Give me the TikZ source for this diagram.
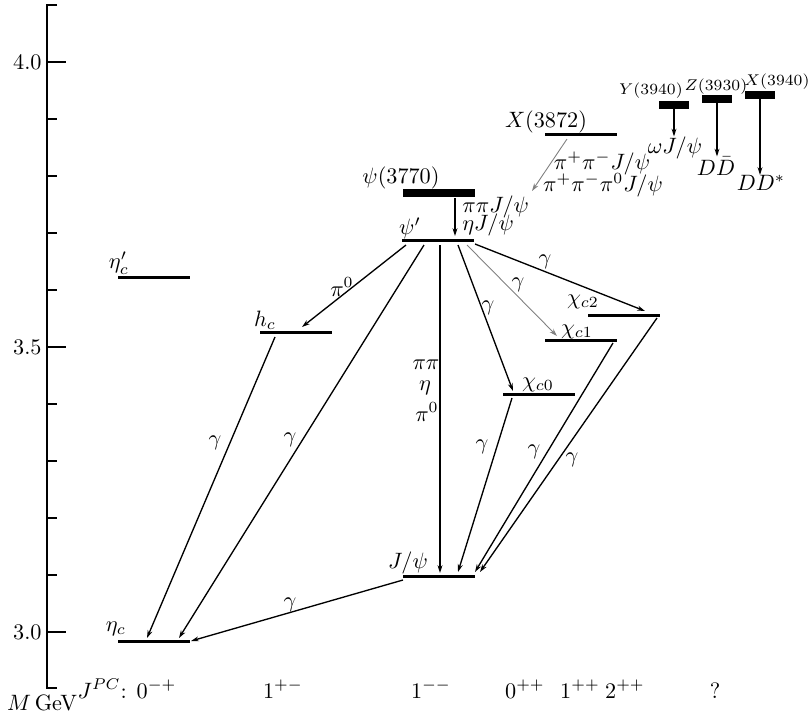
\documentclass[tikz,border=0pt]{standalone}
\usepackage{amsmath,amssymb}
\usetikzlibrary{positioning,arrows.meta,calc}

\begin{document}
\begin{tikzpicture}[
  x=0.45pt, y=-0.45pt,
  lvl/.style={rectangle, fill=black, inner sep=0pt, minimum width=32.4pt, minimum height=1.35pt},
  broad/.style={lvl, minimum height=3.6pt},
  stub/.style={lvl, minimum width=13.5pt, minimum height=3.2pt},
  lab/.style={inner sep=0pt},
  smalllab/.style={lab, font=\scriptsize},
  decay/.style={-{Stealth[length=3.5pt,width=2.2pt]}, line width=0.6pt},
  faint/.style={decay, line width=0.4pt, draw=gray},
  axisline/.style={line width=0.6pt}
]
\useasboundingbox (0,0) rectangle (810,715);

% Mass axis
\draw[axisline] (57,5) -- (47,5) -- (47,688) -- (57,688);
\foreach \k in {1,2,3,4,6,7,8,9}
  \draw[axisline] (47,{632-57*\k}) -- (57,{632-57*\k});
\foreach \k/\m in {0/3.0,5/3.5,10/4.0} {
  \draw[axisline] (47,{632-57*\k}) -- (66,{632-57*\k});
  \node[lab, anchor=east] (tick\k) at (42,{632-57*\k}) {\m};
}

% Levels
\node[lvl] (etac) at (154,641) {};
\node[lvl] (etacp) at (154,277) {};
\node[lvl] (hc) at (296,332) {};
\node[lvl] (psip) at (438,240) {};
\node[broad] (psi3770) at (439,193) {};
\node[lvl] (jpsi) at (439,576) {};
\node[lvl] (chic0) at (539,394) {};
\node[lvl] (chic1) at (581,340) {};
\node[lvl] (chic2) at (624,315) {};
\node[lvl] (x3872) at (581,134) {};
\node[stub] (y3940) at (674,105) {};
\node[stub] (z3930) at (717,99) {};
\node[stub] (x3940) at (760,95) {};

% Level names
\node[lab] (etaclab) at (116,629) {$\eta_c$};
\node[lab] (etacplab) at (119,263) {$\eta_c'$};
\node[lab] (hclab) at (265,320) {$h_c$};
\node[lab] (psiplab) at (410,228) {$\psi'$};
\node[lab] (psi3770lab) at (401,178) {$\psi(3770)$};
\node[lab] (jpsilab) at (408,563) {$J/\psi$};
\node[lab] (chic0lab) at (538,385) {$\chi_{c0}$};
\node[lab] (chic1lab) at (577,332) {$\chi_{c1}$};
\node[lab] (chic2lab) at (583,302) {$\chi_{c2}$};
\node[lab] (x3872lab) at (546,122) {$X(3872)$};
\node[smalllab] (y3940lab) at (651,91) {$Y(3940)$};
\node[smalllab] (z3930lab) at (716,87) {$Z(3930)$};
\node[smalllab] (x3940lab) at (777,82) {$X(3940)$};

% Final states
\node[lab, anchor=west] (pipijpsi) at (462,207) {$\pi\pi J/\psi$};
\node[lab, anchor=west] (etajpsi) at (462,225) {$\eta J/\psi$};
\node[lab] (pipm) at (602,163) {$\pi^+\pi^- J/\psi$};
\node[lab] (pipmpi0) at (603,185) {$\pi^+\pi^-\pi^0 J/\psi$};
\node[lab] (wjpsi) at (675,148) {$\omega J/\psi$};
\node[lab] (ddbar) at (716,166) {$D\bar{D}$};
\node[lab] (ddstar) at (761,183) {$DD^*$};
\coordinate (x3872end) at (532,191);

% Transitions
\draw[decay] ([shift={(16,5)}]psi3770.center) -- ([shift={(17,-4)}]psip.center);
\draw[faint] ([shift={(-14,5)}]x3872.center) -- (x3872end);
\draw[decay] (y3940.south) -- (y3940.south |- wjpsi.north);
\draw[decay] (z3930.south) -- (z3930.south |- ddbar.north);
\draw[decay] (x3940.south) -- (x3940.south |- ddstar.north);

\draw[decay] ([shift={(-32,5)}]psip.center) -- ([shift={(6,-5)}]hc.center);
\draw[decay] ([shift={(-14,5)}]psip.center) -- ([shift={(25,-3)}]etac.center);
\draw[decay] ([shift={(2,5)}]psip.center) -- ([shift={(1,-3)}]jpsi.center);
\draw[decay] ([shift={(20,5)}]psip.center) -- ([shift={(-26,-3)}]chic0.center);
\draw[faint] ([shift={(29,5)}]psip.center) -- ([shift={(-24,-4)}]chic1.center);
\draw[decay] ([shift={(37,4)}]psip.center) -- ([shift={(21,-4)}]chic2.center);
\draw[decay] ([shift={(-21,5)}]hc.center) -- ([shift={(-7,-3)}]etac.center);
\draw[decay] ([shift={(-36,4)}]jpsi.center) -- ([shift={(37,0)}]etac.center);
\draw[decay] ([shift={(-27,4)}]chic0.center) -- ([shift={(19,-4)}]jpsi.center);
\draw[decay] ([shift={(32,3)}]chic1.center) -- ([shift={(36,-4)}]jpsi.center);
\draw[decay] ([shift={(33,3)}]chic2.center) -- ([shift={(41,-4)}]jpsi.center);

% Transition labels
\node[lab] (pi0hc) at (342,287) {$\pi^0$};
\node[lab] (gpsietac) at (290,440) {$\gamma$};
\node[lab] (ghcetac) at (215,443) {$\gamma$};
\node[lab] (pipi) at (426,365) {$\pi\pi$};
\node[lab] (eta) at (425,388) {$\eta$};
\node[lab] (pi0) at (427,412) {$\pi^0$};
\node[lab] (gchic0) at (488,308) {$\gamma$};
\node[lab] (gchic1) at (518,285) {$\gamma$};
\node[lab] (gchic2) at (545,262) {$\gamma$};
\node[lab] (gjpsietac) at (290,605) {$\gamma$};
\node[lab] (gc0jpsi) at (482,447) {$\gamma$};
\node[lab] (gc1jpsi) at (534,452) {$\gamma$};
\node[lab] (gc2jpsi) at (572,460) {$\gamma$};

% Quantum numbers
\node[lab, anchor=base] (mgev) at (42,710) {$M$\,GeV};
\node[lab, anchor=base] (jpc0) at (127,698) {$J^{PC}$: $0^{-+}$};
\node[lab, anchor=base] (jpc1) at (283,698) {$1^{+-}$};
\node[lab, anchor=base] (jpc2) at (431,698) {$1^{--}$};
\node[lab, anchor=base] (jpc3) at (525,698) {$0^{++}$};
\node[lab, anchor=base] (jpc4) at (580,698) {$1^{++}$};
\node[lab, anchor=base] (jpc5) at (625,698) {$2^{++}$};
\node[lab, anchor=base] (jpc6) at (715,698) {?};
\end{tikzpicture}
\end{document}
